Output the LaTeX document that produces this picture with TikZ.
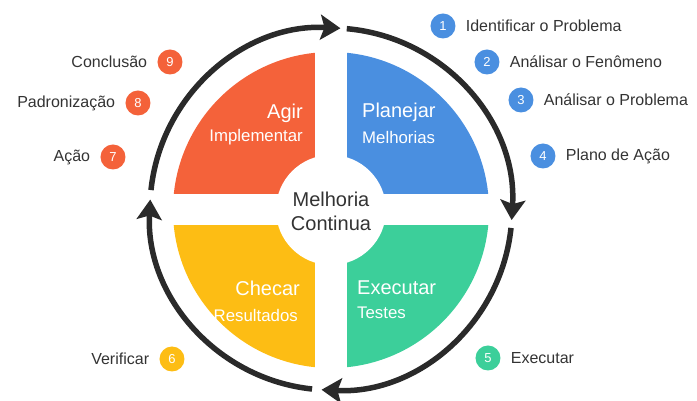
\documentclass[tikz,border=0pt]{standalone}
\usepackage{fontspec}
\setmainfont{Liberation Sans}
\usetikzlibrary{arrows.meta, positioning}

\definecolor{agirred}{HTML}{F4623A}
\definecolor{planblue}{HTML}{4A8FE0}
\definecolor{execgreen}{HTML}{3CCF9A}
\definecolor{checkyellow}{HTML}{FDBD14}
\definecolor{ringgray}{HTML}{2A2A2A}
\definecolor{txtgray}{HTML}{333333}

\begin{document}
\begin{tikzpicture}[x=1pt, y=1pt,
    badge/.style={circle, fill=#1, text=white, minimum size=25pt, inner sep=0pt, font=\fontsize{13}{13}\selectfont},
    lbl/.style={text=txtgray, inner sep=0pt, font=\fontsize{16}{16}\selectfont},
    title/.style={text=white, inner sep=0pt, font=\fontsize{20}{20}\selectfont},
    sub/.style={text=white, inner sep=0pt, font=\fontsize{16.8}{17}\selectfont},
    ring/.style={line width=5.5pt, draw=ringgray, -{Stealth[length=20pt, width=25pt, inset=4pt]}},
  ]
  \useasboundingbox (-331,-191) rectangle (366,210);

  % Quadrants
  \foreach \a/\col in {90/agirred, 0/planblue, 270/execgreen, 180/checkyellow}
    \fill[\col] (0,0) -- (\a:158) arc[start angle=\a, delta angle=90, radius=158] -- cycle;
  \fill[white] (-16,-170) rectangle (16,170);
  \fill[white] (-170,-15.5) rectangle (170,15.5);
  \fill[white] (0,0) circle (55);

  % Cycle arrows
  \begin{scope}[yshift=1]
    \draw[ring] (174:181) arc[start angle=174, end angle=87, radius=181];
    \draw[ring] (85:181) arc[start angle=85, end angle=-3.5, radius=181];
    \draw[ring] (-6:181) arc[start angle=-6, end angle=-93, radius=181];
    \draw[ring] (264:181) arc[start angle=264, end angle=177, radius=181];
  \end{scope}

  % Center text
  \node[text=txtgray, align=center, font=\fontsize{20}{24}\selectfont] (center) at (0,-1) {Melhoria\\Continua};

  % Quadrant titles
  \node[title, anchor=east] (agir) at (-28,97) {Agir};
  \node[sub, anchor=east] (agirsub) at (-28,73) {Implementar};
  \node[title, anchor=west] (plan) at (31,98) {Planejar};
  \node[sub, anchor=west] (plansub) at (31,73) {Melhorias};
  \node[title, anchor=west] (exec) at (26,-78) {Executar};
  \node[sub, anchor=west] (execsub) at (26,-103) {Testes};
  \node[title, anchor=east] (check) at (-31,-78) {Checar};
  \node[sub, anchor=east] (checksub) at (-33,-105) {Resultados};

  % Steps
  \node[badge=planblue] (b1) at (112,184) {1};
  \node[lbl, right=10pt of b1] (l1) {Identificar o Problema};
  \node[badge=planblue] (b2) at (156,148) {2};
  \node[lbl, right=10pt of b2] (l2) {Análisar o Fenômeno};
  \node[badge=planblue] (b3) at (190,110) {3};
  \node[lbl, right=10pt of b3] (l3) {Análisar o Problema};
  \node[badge=planblue] (b4) at (212,54) {4};
  \node[lbl, right=10pt of b4] (l4) {Plano de Ação};
  \node[badge=execgreen] (b5) at (157,-148) {5};
  \node[lbl, right=10pt of b5] (l5) {Executar};
  \node[badge=checkyellow] (b6) at (-159,-149) {6};
  \node[lbl, left=10pt of b6] (l6) {Verificar};
  \node[badge=agirred] (b7) at (-218,53) {7};
  \node[lbl, left=10pt of b7] (l7) {Ação};
  \node[badge=agirred] (b8) at (-193,107) {8};
  \node[lbl, left=10pt of b8] (l8) {Padronização};
  \node[badge=agirred] (b9) at (-161,148) {9};
  \node[lbl, left=10pt of b9] (l9) {Conclusão};
\end{tikzpicture}
\end{document}
